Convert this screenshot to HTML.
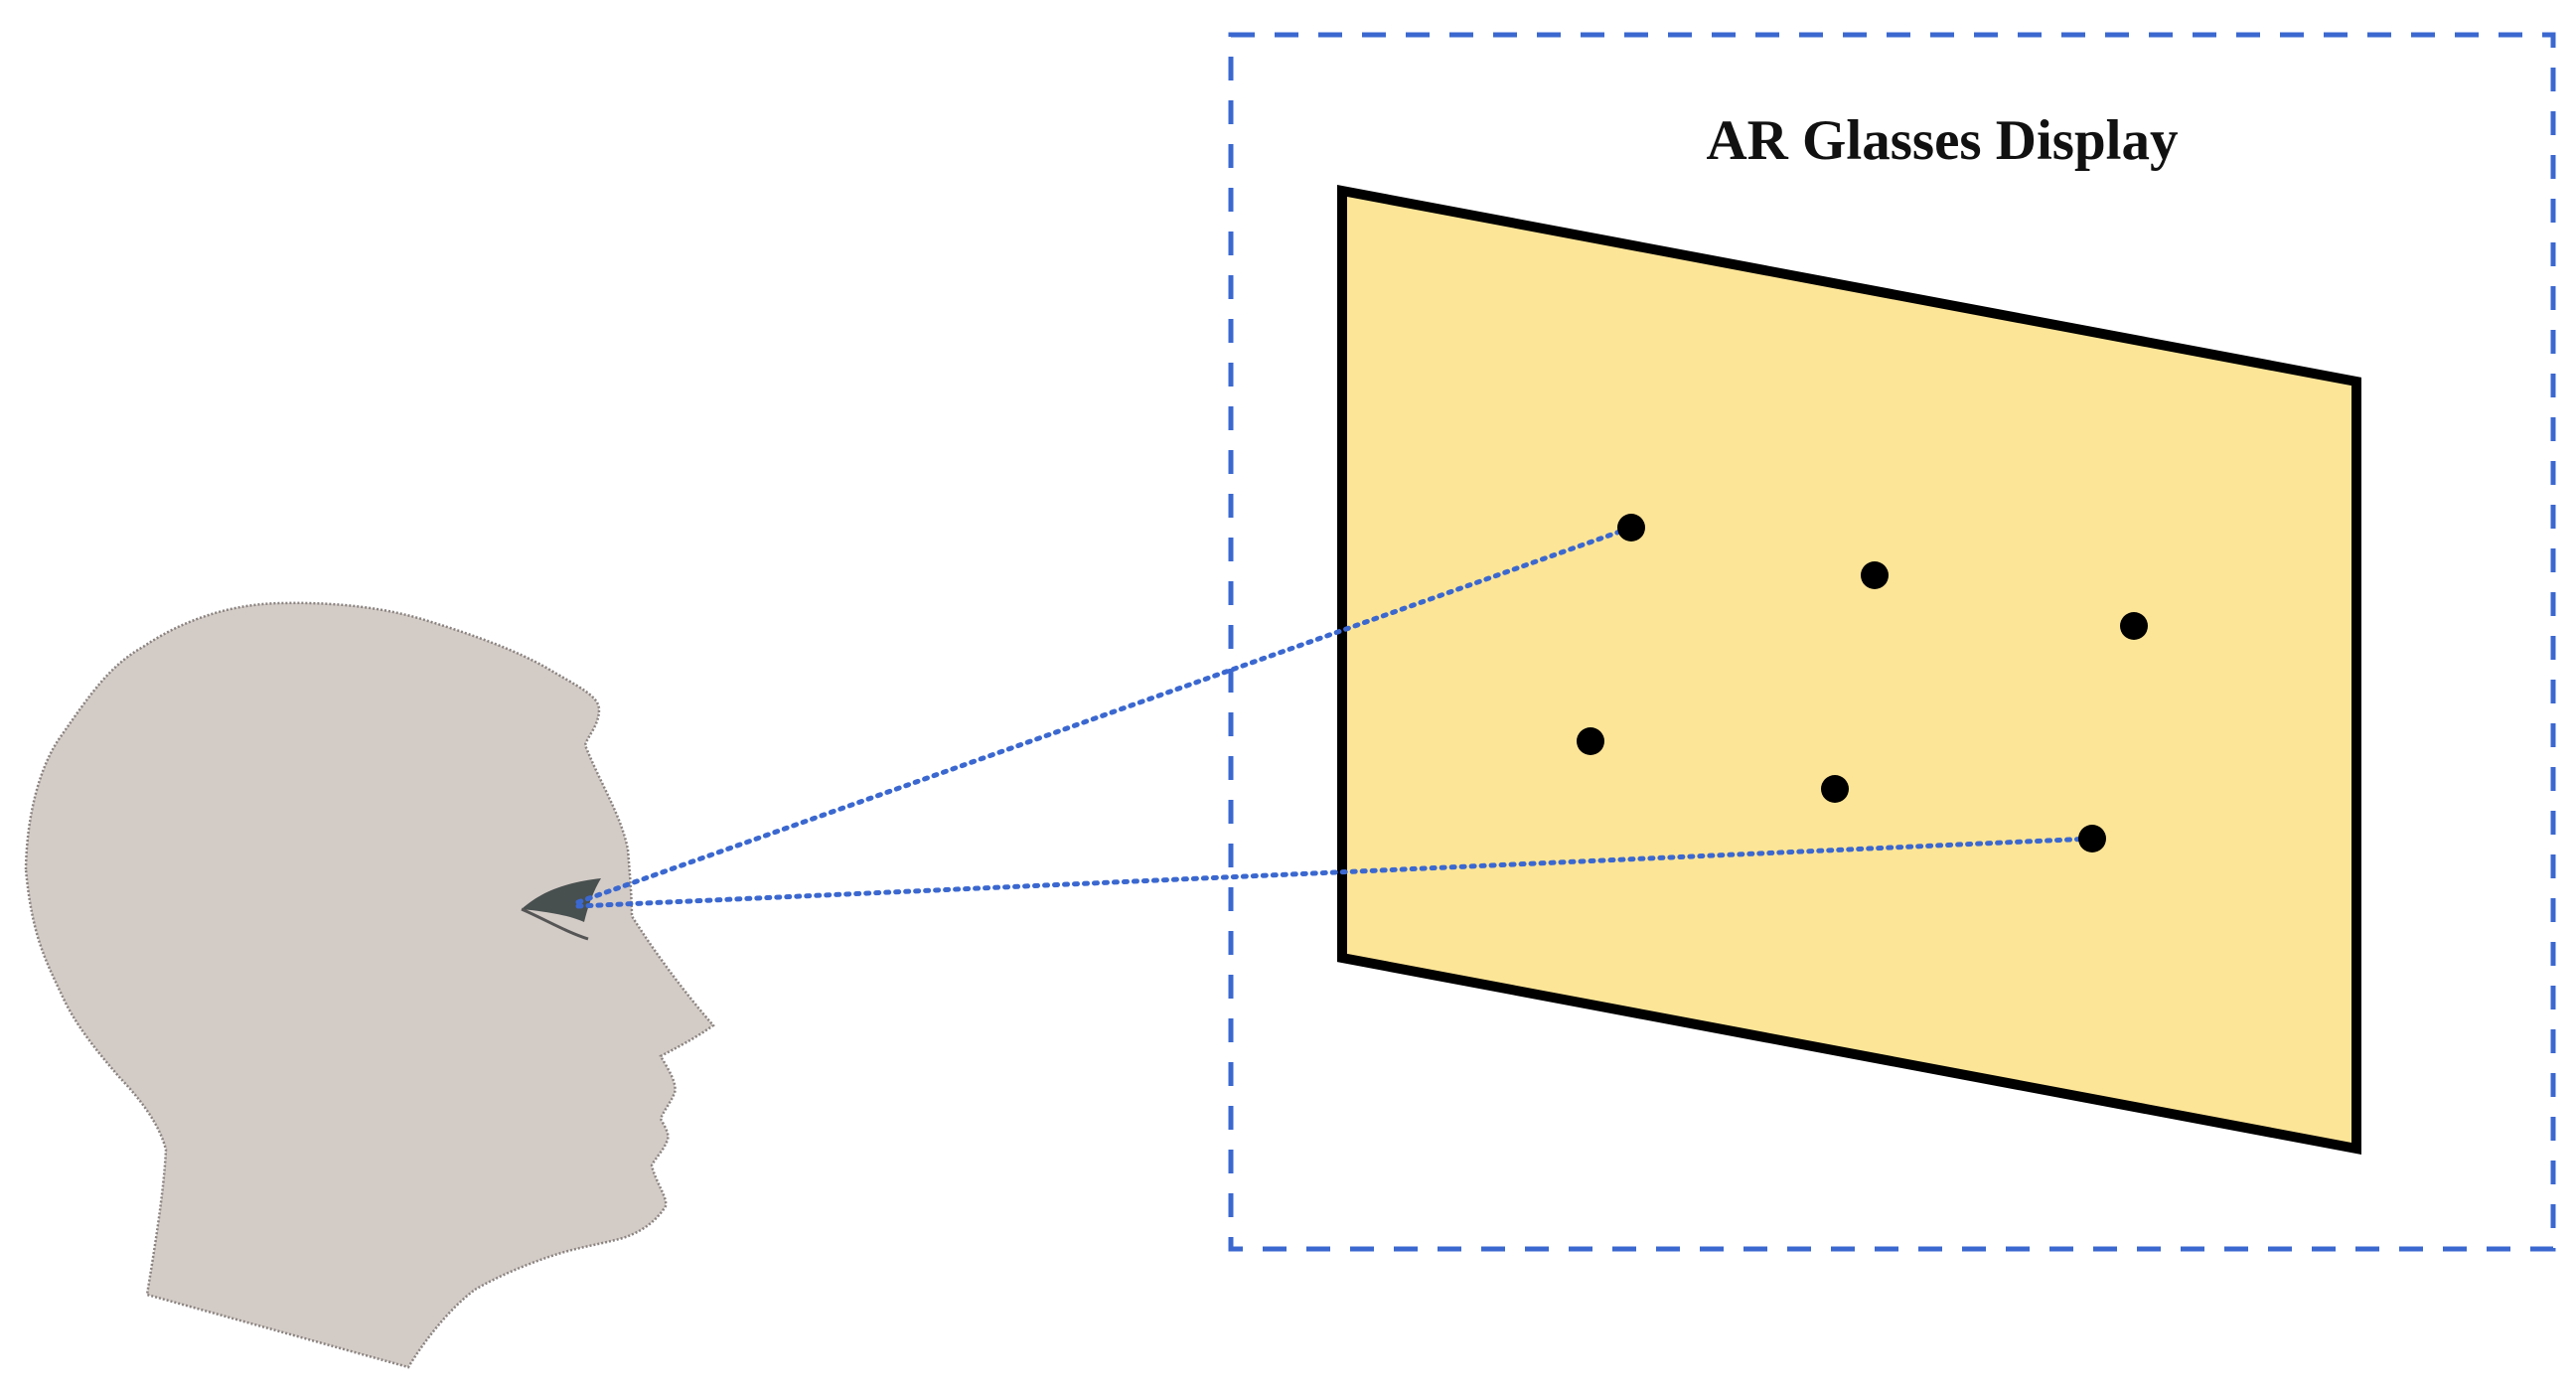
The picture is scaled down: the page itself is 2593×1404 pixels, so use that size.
<!DOCTYPE html>
<html><head><meta charset="utf-8"><style>html,body{margin:0;padding:0;background:#fff}svg{display:block}</style></head>
<body>
<svg width="2593" height="1404" viewBox="0 0 2593 1404" xmlns="http://www.w3.org/2000/svg">
<path d="M26,875 C27,820 40,770 62,740 C90,700 110,670 144,651 C190,620 240,607 287,607 C340,606 390,612 431,625 C480,640 520,655 550,672 C580,690 603,700 603,714 C603,730 592,740 589,750 C605,790 625,820 632,855 C634,880 636,905 636,922 C660,960 690,1000 718,1032 C700,1045 680,1055 665,1063 C672,1075 682,1090 679,1100 C675,1110 668,1118 665,1126 C668,1132 674,1140 672,1147 C668,1158 660,1165 656,1173 C660,1190 672,1205 670,1214 C660,1230 645,1240 627,1246 C605,1252 585,1255 565,1261 C535,1270 500,1285 478,1298 C455,1315 430,1345 411,1376 L148,1303 C155,1260 165,1200 167,1157 C160,1130 140,1105 120,1084 C95,1055 75,1030 62,1001 C45,965 32,940 26,875 Z" fill="#d3cbc6" stroke="#8a8380" stroke-width="2.5" stroke-dasharray="2,2"/>
<path d="M525,915 C545,897 570,888 605,884 C597,897 592,912 588,928 C575,922 555,918 525,915 Z" fill="#2f3a3a" opacity="0.85"/>
<path d="M525,915 C548,925 570,938 592,945" stroke="#555" stroke-width="3" fill="none"/>
<rect x="1239" y="35" width="1331" height="1222" fill="none" stroke="#3b68d0" stroke-width="5" stroke-dasharray="24,20"/>
<text x="1955" y="160" text-anchor="middle" font-family="Liberation Serif, serif" font-weight="bold" font-size="57" fill="#111">AR Glasses Display</text>
<polygon points="1351,192 2372,384 2372,1156 1351,964" fill="#fde597" stroke="#000" stroke-width="10" stroke-linejoin="miter"/>
<g stroke="#3b68d0" stroke-width="5" stroke-dasharray="3,7" stroke-linecap="round">
<line x1="582" y1="908" x2="1642" y2="531"/>
<line x1="582" y1="912" x2="2106" y2="844"/>
</g>
<g fill="#000">
<circle cx="1642" cy="531" r="14"/><circle cx="1887" cy="579" r="14"/><circle cx="2148" cy="630" r="14"/>
<circle cx="1601" cy="746" r="14"/><circle cx="1847" cy="794" r="14"/><circle cx="2106" cy="844" r="14"/>
</g>
</svg>
</body></html>
